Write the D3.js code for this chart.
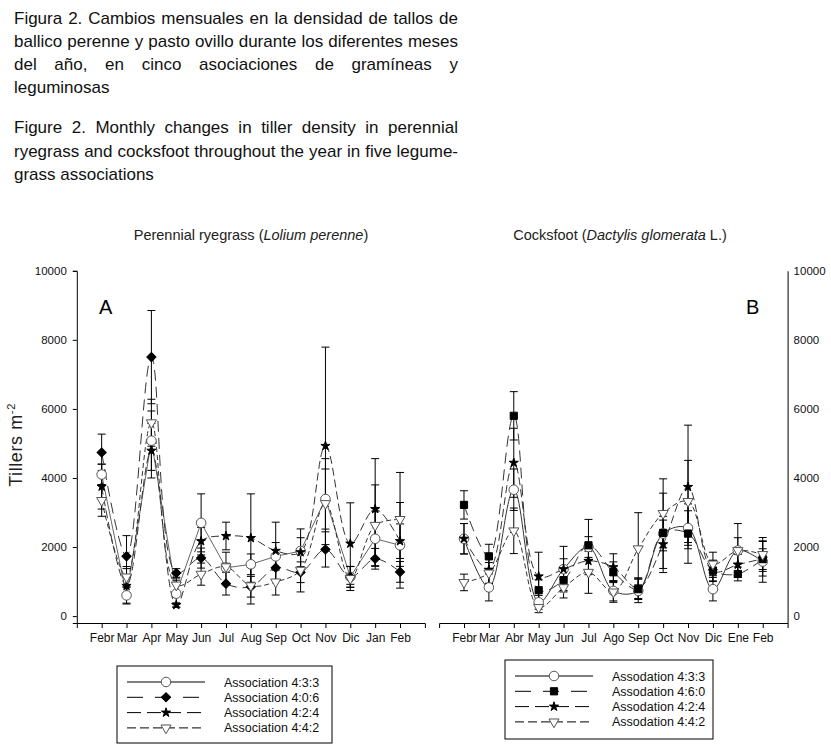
<!DOCTYPE html>
<html>
<head>
<meta charset="utf-8">
<script src="https://d3js.org/d3.v7.min.js"></script>
<style>
    body {margin: 0; background: #fff;}
    svg {display: block; font-family: "Liberation Sans", Arial, sans-serif;}
    .axis text {font-size: 11.5px; fill: #111;}
    .axis path, .axis line {stroke: #000; stroke-width: 1;}
</style>
</head>
<body>
<svg width="831" height="751"></svg>
<script>
    // caption lines (spanish + english)
    const captionLines = [
        "Figura 2. Cambios mensuales en la densidad de tallos de",
        "ballico perenne y pasto ovillo durante los diferentes meses",
        "del año, en cinco asociaciones de gramíneas y",
        "leguminosas",
        "Figure 2. Monthly changes in tiller density in perennial",
        "ryegrass and cocksfoot throughout the year in five legume-",
        "grass associations"
    ];

    const monthsA = ["Febr", "Mar", "Apr", "May", "Jun", "Jul", "Aug", "Sep", "Oct", "Nov", "Dic", "Jan", "Feb"];
    const monthsB = ["Febr", "Mar", "Abr", "May", "Jun", "Jul", "Ago", "Sep", "Oct", "Nov", "Dic", "Ene", "Feb"];
    const yTicks = [0, 2000, 4000, 6000, 8000, 10000];

    // Panel A - perennial ryegrass
    const a433 = [4100, 600, 5080, 650, 2700, 1400, 1500, 1730, 1885, 3390, 1135, 2240, 2050];
    const a433Err = [300, 250, 860, 390, 840, 450, 300, 400, 640, 870, 300, 800, 1240];
    const a406 = [4740, 1730, 7500, 1250, 1680, 940, 850, 1400, 1270, 1930, 1135, 1660, 1280];
    const a406Err = [530, 600, 1350, 125, 290, 330, 300, 350, 300, 510, 300, 300, 300];
    const a424 = [3750, 875, 4790, 320, 2170, 2320, 2260, 1890, 1850, 4930, 2100, 3100, 2170];
    const a424Err = [650, 500, 790, 60, 400, 400, 1280, 830, 420, 2860, 1180, 1460, 500];
    const a442 = [3350, 1135, 5600, 900, 1215, 1430, 880, 990, 1330, 3260, 1090, 2630, 2800];
    const a442Err = [460, 300, 680, 200, 320, 100, 530, 380, 630, 1300, 350, 1170, 1360];

    // Panel B - cocksfoot
    const b433 = [2240, 830, 3660, 400, 1360, 2000, 730, 730, 2390, 2550, 780, 1900, 1580];
    const b433Err = [440, 390, 600, 200, 300, 300, 290, 340, 500, 500, 340, 780, 600];
    const b460 = [3220, 1730, 5800, 750, 1040, 2050, 1270, 780, 2410, 2390, 1320, 1220, 1650];
    const b460Err = [410, 350, 700, 300, 300, 750, 300, 300, 1150, 860, 300, 200, 300];
    const b424 = [2240, 1340, 4440, 1150, 1360, 1600, 1415, 810, 2080, 3740, 1300, 1490, 1660];
    const b424Err = [440, 400, 1000, 700, 660, 400, 390, 300, 700, 1790, 300, 300, 500];
    const b442 = [975, 1250, 2470, 250, 825, 1270, 700, 1950, 2975, 3320, 1510, 1900, 1785];
    const b442Err = [240, 300, 660, 150, 300, 610, 300, 1045, 1000, 1190, 340, 370, 490];

    const svg = d3.select("svg");

    // caption, justified lines (spread the spare room over the word gaps)
    const capY = [24, 47, 70, 93, 133, 156.5, 180];
    const justified = [true, true, true, false, true, true, false];
    captionLines.forEach(function (line, i) {
        const t = svg.append("text")
            .attr("x", 14)
            .attr("y", capY[i])
            .style("font-size", "17px")
            .style("fill", "#111")
            .text(line);
        if (justified[i]) {
            const w = t.node().getComputedTextLength();
            const gaps = line.split(" ").length - 1;
            t.style("word-spacing", ((444 - w) / gaps) + "px");
        }
    });

    // shared y scale, extends a little under zero like the original
    const y = d3.scaleLinear().domain([-200, 10000]).range([623, 270.8]);

    // marker shapes
    const markers = {
        circle: {type: d3.symbolCircle, size: 72, fill: "#fff", stroke: "#555", rot: 0},
        diamond: {type: d3.symbolSquare, size: 42, fill: "#000", stroke: "#000", rot: 45},
        star: {type: d3.symbolStar, size: 26, fill: "#000", stroke: "#000", rot: 0},
        triangle: {type: d3.symbolTriangle, size: 44, fill: "#fff", stroke: "#555", rot: 180},
        square: {type: d3.symbolSquare, size: 52, fill: "#000", stroke: "#000", rot: 0}
    };

    function drawMarker(g, cx, cy, m) {
        g.append("path")
            .attr("d", d3.symbol().type(m.type).size(m.size)())
            .attr("transform", "translate(" + cx + "," + cy + ") rotate(" + m.rot + ")")
            .attr("fill", m.fill)
            .attr("stroke", m.stroke)
            .attr("stroke-width", 1);
    }

    function drawPanel(opts) {
        const g = svg.append("g");
        const x = d3.scaleLinear().domain([-1, 13]).range(opts.xRange);

        // x axis
        const xAxis = d3.axisBottom(x)
            .tickValues(d3.range(13))
            .tickFormat(function (i) { return opts.months[i]; })
            .tickSizeOuter(0)
            .tickSize(5)
            .tickPadding(5);
        g.append("g")
            .attr("class", "axis")
            .attr("transform", "translate(0,623)")
            .call(xAxis)
            .selectAll("text").style("font-size", "12px");

        // y axis
        const yAxis = (opts.right ? d3.axisRight(y) : d3.axisLeft(y))
            .tickValues(yTicks)
            .tickFormat(d3.format("d"))
            .tickSizeOuter(0)
            .tickSize(opts.right ? 0 : 4)
            .tickPadding(6);
        g.append("g")
            .attr("class", "axis")
            .attr("transform", "translate(" + (opts.right ? opts.xRange[1] : opts.xRange[0]) + ",0)")
            .call(yAxis);

        // lines
        opts.series.forEach(function (s) {
            const line = d3.line()
                .x(function (d, i) { return x(i); })
                .y(function (d) { return y(d); })
                .curve(s.smooth ? d3.curveCatmullRom : d3.curveLinear);
            g.append("path")
                .datum(s.values)
                .attr("d", line)
                .attr("fill", "none")
                .attr("stroke", s.color)
                .attr("stroke-width", 1)
                .attr("stroke-dasharray", s.dash);
        });

        // error bars
        opts.series.forEach(function (s) {
            s.values.forEach(function (v, i) {
                const e = s.err[i];
                const cx = x(i);
                g.append("line")
                    .attr("x1", cx).attr("x2", cx)
                    .attr("y1", y(v - e)).attr("y2", y(v + e))
                    .attr("stroke", "#000").attr("stroke-width", 1);
                [v - e, v + e].forEach(function (c) {
                    g.append("line")
                        .attr("x1", cx - 4).attr("x2", cx + 4)
                        .attr("y1", y(c)).attr("y2", y(c))
                        .attr("stroke", "#000").attr("stroke-width", 1);
                });
            });
        });

        // markers
        opts.series.forEach(function (s) {
            s.values.forEach(function (v, i) {
                drawMarker(g, x(i), y(v), markers[s.marker]);
            });
        });

        // panel title
        const title = svg.append("text")
            .attr("x", opts.titleX)
            .attr("y", 240)
            .attr("text-anchor", "middle")
            .style("font-size", "14.5px")
            .style("fill", "#222");
        title.append("tspan").text(opts.title[0]);
        title.append("tspan").style("font-style", "italic").text(opts.title[1]);
        title.append("tspan").text(opts.title[2]);

        // panel letter
        svg.append("text")
            .attr("x", opts.letterX)
            .attr("y", 314)
            .style("font-size", "20px")
            .text(opts.letter);

        // legend
        const lg = svg.append("g");
        lg.append("rect")
            .attr("x", opts.legend.x).attr("y", opts.legend.y)
            .attr("width", opts.legend.w).attr("height", opts.legend.h)
            .attr("fill", "#fff").attr("stroke", "#000").attr("stroke-width", 1);
        opts.series.forEach(function (s, i) {
            const ly = opts.legend.y + 16 + i * 15.3;
            lg.append("line")
                .attr("x1", opts.legend.x + 10).attr("x2", opts.legend.x + 88)
                .attr("y1", ly).attr("y2", ly)
                .attr("stroke", "#000").attr("stroke-width", 1)
                .attr("stroke-dasharray", s.legendDash);
            drawMarker(lg, opts.legend.x + 49, ly, markers[s.marker]);
            lg.append("text")
                .attr("x", opts.legend.x + 107)
                .attr("y", ly + 4.5)
                .style("font-size", "12.5px")
                .style("fill", "#111")
                .text(s.name);
        });
    }

    drawPanel({
        xRange: [76.8, 424.9],
        months: monthsA,
        right: false,
        title: ["Perennial ryegrass (", "Lolium perenne", ")"],
        titleX: 251,
        letter: "A",
        letterX: 99,
        legend: {x: 117, y: 666, w: 215, h: 77},
        series: [
            {name: "Association 4:3:3", values: a433, err: a433Err, marker: "circle", color: "#666", dash: null, legendDash: null, smooth: false},
            {name: "Association 4:0:6", values: a406, err: a406Err, marker: "diamond", color: "#333", dash: "11,6", legendDash: "16,12", smooth: true},
            {name: "Association 4:2:4", values: a424, err: a424Err, marker: "star", color: "#333", dash: "8,4", legendDash: "14,6", smooth: true},
            {name: "Association 4:4:2", values: a442, err: a442Err, marker: "triangle", color: "#333", dash: "5,3", legendDash: "9,4", smooth: true}
        ]
    });

    drawPanel({
        xRange: [439.1, 787.6],
        months: monthsB,
        right: true,
        title: ["Cocksfoot (", "Dactylis glomerata ", "L.)"],
        titleX: 620,
        letter: "B",
        letterX: 746,
        legend: {x: 505, y: 660, w: 208, h: 79},
        series: [
            {name: "Assodation 4:3:3", values: b433, err: b433Err, marker: "circle", color: "#333", dash: null, legendDash: null, smooth: true},
            {name: "Assodation 4:6:0", values: b460, err: b460Err, marker: "square", color: "#333", dash: "11,6", legendDash: "16,12", smooth: true},
            {name: "Assodation 4:2:4", values: b424, err: b424Err, marker: "star", color: "#333", dash: "8,4", legendDash: "14,6", smooth: true},
            {name: "Assodation 4:4:2", values: b442, err: b442Err, marker: "triangle", color: "#333", dash: "5,3", legendDash: "9,4", smooth: true}
        ]
    });

    // y axis title
    const yt = svg.append("text")
        .attr("transform", "translate(22,445) rotate(-90)")
        .attr("text-anchor", "middle")
        .style("font-size", "18px")
        .style("letter-spacing", "0.6px")
        .style("fill", "#222");
    yt.append("tspan").text("Tillers  m");
    yt.append("tspan").attr("dy", -7).style("font-size", "11px").text("-2");
</script>
</body>
</html>
